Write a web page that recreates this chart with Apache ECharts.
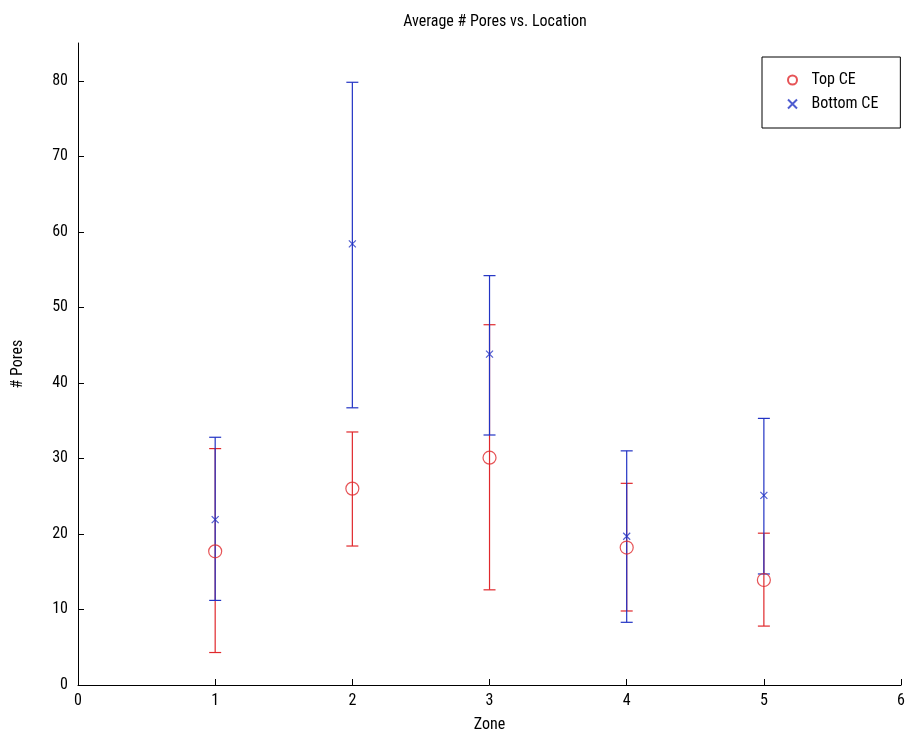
<!DOCTYPE html>
<html>
<head>
<meta charset="utf-8">
<script src="https://cdn.jsdelivr.net/npm/echarts@6/dist/echarts.min.js"></script>
<style>html,body{margin:0;padding:0;background:#fff}#c{width:908px;height:745px}</style>
</head>
<body>
<div id="c"></div>
<script>
const zones = [1, 2, 3, 4, 5];
const topMean = [17.7, 26.0, 30.1, 18.2, 13.9];
const topLow = [4.3, 18.4, 12.6, 9.8, 7.8];
const topHigh = [31.3, 33.5, 47.7, 26.7, 20.1];
const bottomMean = [21.9, 58.4, 43.8, 19.7, 25.1];
const bottomLow = [11.2, 36.7, 33.1, 8.3, 14.7];
const bottomHigh = [32.8, 79.8, 54.2, 31.0, 35.3];
const xTicks = [0, 1, 2, 3, 4, 5, 6];
const yTicks = [0, 10, 20, 30, 40, 50, 60, 70, 80];

const FONT = '"Roboto Condensed", "DejaVu Sans Condensed", "Liberation Sans", Arial, sans-serif';
const FS = 16;
const RED = '#e0282c';
const BLUE = '#2233c4';

function errData(low, high) {
  return zones.map((z, i) => [z, low[i], high[i]]);
}
function errRender(color) {
  return function (params, api) {
    const x = api.value(0);
    const lo = api.coord([x, api.value(1)]);
    const hi = api.coord([x, api.value(2)]);
    const w = 6;
    const style = { stroke: color, lineWidth: 1.2, fill: null };
    return {
      type: 'group',
      children: [
        { type: 'line', shape: { x1: lo[0], y1: lo[1], x2: hi[0], y2: hi[1] }, style },
        { type: 'line', shape: { x1: lo[0] - w, y1: lo[1], x2: lo[0] + w, y2: lo[1] }, style },
        { type: 'line', shape: { x1: hi[0] - w, y1: hi[1], x2: hi[0] + w, y2: hi[1] }, style }
      ]
    };
  };
}

const chart = echarts.init(document.getElementById('c'));
chart.setOption({
  animation: false,
  backgroundColor: '#ffffff',
  title: {
    text: 'Average # Pores vs. Location',
    left: 490, top: 9, textAlign: 'center',
    textStyle: { fontFamily: FONT, fontSize: FS, fontWeight: 'normal', color: '#000' }
  },
  legend: {
    orient: 'vertical',
    left: 762, top: 57,
    backgroundColor: '#fff',
    borderColor: '#000', borderWidth: 1,
    padding: [15, 22, 16, 25],
    itemGap: 8,
    itemWidth: 12, itemHeight: 9,
    textStyle: { fontFamily: FONT, fontSize: FS, color: '#000', padding: [0, 0, 0, 8] },
    data: ['Top CE', 'Bottom CE']
  },
  grid: { left: 78, right: 6, top: 43, bottom: 60, containLabel: false },
  xAxis: {
    type: 'value', min: 0, max: 6, interval: 1,
    name: 'Zone', nameLocation: 'middle', nameGap: 32,
    nameTextStyle: { fontFamily: FONT, fontSize: FS, color: '#000' },
    axisLine: { show: true, lineStyle: { color: '#000', width: 1 } },
    axisTick: { show: true, inside: true, length: 6, lineStyle: { color: '#000' }, customValues: xTicks },
    axisLabel: { fontFamily: FONT, fontSize: FS, color: '#000', margin: 8, customValues: xTicks },
    splitLine: { show: false }
  },
  yAxis: {
    type: 'value', min: 0, max: 85,
    name: '# Pores', nameLocation: 'middle', nameGap: 52, nameRotate: 90,
    nameTextStyle: { fontFamily: FONT, fontSize: FS, color: '#000' },
    axisLine: { show: true, lineStyle: { color: '#000', width: 1 } },
    axisTick: { show: true, inside: true, length: 6, lineStyle: { color: '#000' }, customValues: yTicks },
    axisLabel: { fontFamily: FONT, fontSize: FS, color: '#000', margin: 10, customValues: yTicks },
    splitLine: { show: false }
  },
  series: [
    {
      type: 'custom', name: 'topErr', renderItem: errRender(RED),
      data: errData(topLow, topHigh), encode: { x: 0, y: [1, 2] }, z: 2, silent: true
    },
    {
      type: 'custom', name: 'bottomErr', renderItem: errRender(BLUE),
      data: errData(bottomLow, bottomHigh), encode: { x: 0, y: [1, 2] }, z: 3, silent: true
    },
    {
      type: 'scatter', name: 'Top CE',
      data: zones.map((z, i) => [z, topMean[i]]),
      symbol: 'circle', symbolSize: 13,
      itemStyle: { color: 'rgba(0,0,0,0)', borderColor: RED, borderWidth: 1.2 },
      z: 4
    },
    {
      type: 'scatter', name: 'Bottom CE',
      data: zones.map((z, i) => [z, bottomMean[i]]),
      symbol: 'path://M0,0L10,10M10,0L0,10', symbolSize: 7,
      itemStyle: { color: 'rgba(0,0,0,0)', borderColor: BLUE, borderWidth: 1.2 },
      z: 5
    }
  ]
});
</script>
</body>
</html>
